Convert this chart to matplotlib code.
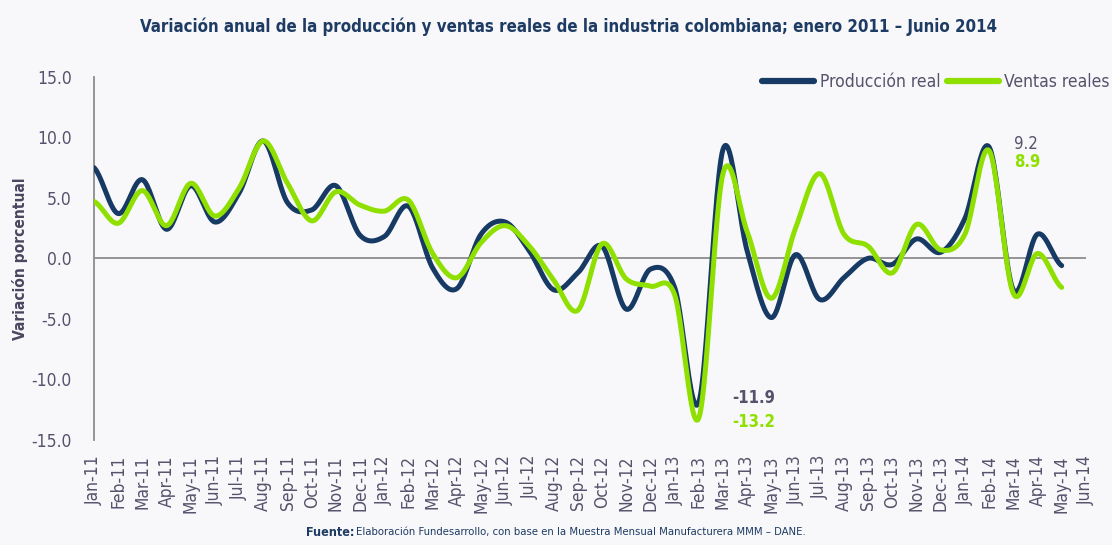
import numpy as np
from matplotlib import pyplot as plt

months = ["Jan-11", "Feb-11", "Mar-11", "Apr-11", "May-11", "Jun-11", "Jul-11", "Aug-11", "Sep-11", "Oct-11",
          "Nov-11", "Dec-11", "Jan-12", "Feb-12", "Mar-12", "Apr-12", "May-12", "Jun-12", "Jul-12", "Aug-12",
          "Sep-12", "Oct-12", "Nov-12", "Dec-12", "Jan-13", "Feb-13", "Mar-13", "Apr-13", "May-13", "Jun-13",
          "Jul-13", "Aug-13", "Sep-13", "Oct-13", "Nov-13", "Dec-13", "Jan-14", "Feb-14", "Mar-14", "Apr-14",
          "May-14", "Jun-14"]

produccion = [7.5, 3.7, 6.5, 2.4, 6.0, 3.0, 5.4, 9.7, 4.6, 4.0,
              6.0, 1.9, 1.8, 4.3, -0.8, -2.5, 2.0, 3.0, 0.6, -2.6,
              -1.2, 1.0, -4.2, -0.9, -2.4, -11.9, 9.0, 0.6, -4.9, 0.3,
              -3.4, -1.6, 0.0, -0.5, 1.6, 0.5, 3.3, 9.2, -2.6, 2.0,
              -0.6]

ventas = [4.7, 2.9, 5.6, 2.7, 6.2, 3.5, 5.8, 9.7, 6.2, 3.1,
          5.5, 4.4, 3.9, 4.8, 0.4, -1.6, 1.3, 2.7, 1.0, -1.8,
          -4.3, 1.2, -1.7, -2.3, -3.0, -13.2, 7.0, 2.2, -3.3, 2.5,
          7.0, 2.0, 1.0, -1.2, 2.8, 0.7, 2.0, 8.9, -2.9, 0.4,
          -2.4]

# months that carry a data label
labelled = ["Feb-13", "Feb-14"]

NAVY = "#173a64"
GREEN = "#8fe000"
TEXT = "#56526c"


def smooth(values, steps=24):
    # Bezier smoothing through every point, like a spreadsheet "smoothed line"
    y = np.asarray(values, dtype=float)
    n = len(y)
    xs, ys = [], []
    t = np.linspace(0, 1, steps, endpoint=False)
    for i in range(n - 1):
        p0 = y[i - 1] if i > 0 else y[i]
        p1, p2 = y[i], y[i + 1]
        p3 = y[i + 2] if i + 2 < n else y[i + 1]
        c1 = p1 + (p2 - p0) / 6
        c2 = p2 - (p3 - p1) / 6
        b = (1 - t) ** 3 * p1 + 3 * (1 - t) ** 2 * t * c1 + 3 * (1 - t) * t ** 2 * c2 + t ** 3 * p2
        xs.append(i + t)
        ys.append(b)
    xs.append([n - 1])
    ys.append([y[-1]])
    return np.concatenate(xs), np.concatenate(ys)


plt.rcParams["font.family"] = ["DejaVu Sans"]
plt.rcParams["font.stretch"] = "condensed"

fig = plt.figure(figsize=(11.12, 5.45), dpi=100, facecolor="#f8f8fa")
ax = fig.add_axes([0.0845, 0.193, 0.892, 0.666])
ax.set_facecolor("#f8f8fa")

xp, yp = smooth(produccion)
xv, yv = smooth(ventas)
ax.plot(xp, yp, color=NAVY, lw=3.6, solid_capstyle="round", label="Producción real", zorder=3)
ax.plot(xv, yv, color=GREEN, lw=3.6, solid_capstyle="round", label="Ventas reales", zorder=4)

ax.axhline(0, color="#8c8c8c", lw=1.3, zorder=2)
ax.set_xlim(0, len(months) - 1)
ax.set_ylim(-15, 15)
ax.set_yticks(np.arange(-15, 15.1, 5))
ax.set_yticklabels([f"{v:.1f}" for v in np.arange(-15, 15.1, 5)])
ax.set_xticks(range(len(months)))
ax.set_xticklabels(months, rotation=90)
ax.tick_params(axis="y", length=0, pad=16, labelsize=12.5, labelcolor=TEXT)
ax.tick_params(axis="x", length=0, pad=11, labelsize=12.5, labelcolor=TEXT)
for side in ["top", "right", "bottom"]:
    ax.spines[side].set_visible(False)
ax.spines["left"].set_color("#8c8c8c")
ax.spines["left"].set_linewidth(1.3)

ax.set_ylabel("Variación porcentual", fontsize=11.2, fontweight="bold", color="#4a4660")
ax.yaxis.set_label_coords(-0.066, 0.5)

# data labels on the extremes
i_min = months.index(labelled[0])
i_max = months.index(labelled[1])
ax.annotate(f"{produccion[i_min]:.1f}", (i_min, produccion[i_min]), xytext=(33, 4), textcoords="offset pixels",
            ha="left", va="center", fontsize=12, fontweight="bold", color=TEXT)
ax.annotate(f"{ventas[i_min]:.1f}", (i_min, ventas[i_min]), xytext=(33, -4), textcoords="offset pixels",
            ha="left", va="center", fontsize=12, fontweight="bold", color=GREEN)
ax.annotate(f"{produccion[i_max]:.1f}", (i_max, produccion[i_max]), xytext=(25, 3), textcoords="offset pixels",
            ha="left", va="center", fontsize=12, color=TEXT)
ax.annotate(f"{ventas[i_max]:.1f}", (i_max, ventas[i_max]), xytext=(25, -11), textcoords="offset pixels",
            ha="left", va="center", fontsize=12, fontweight="bold", color=GREEN)

leg = ax.legend(loc="center right", bbox_to_anchor=(1110 / 1112, 1 - 82 / 545), bbox_transform=fig.transFigure,
                ncol=2, frameon=False, handlelength=3.0, handletextpad=0.3, columnspacing=0.4,
                fontsize=12.5, borderaxespad=0, borderpad=0)
for txt in leg.get_texts():
    txt.set_color(TEXT)
for line in leg.get_lines():
    line.set_linewidth(4.5)

fig.text(568 / 1112, 1 - 27 / 545,
         "Variación anual de la producción y ventas reales de la industria colombiana; enero 2011 – Junio 2014",
         ha="center", va="center", fontsize=12.1, fontweight="bold", color="#1d3b63")

fig.text(354 / 1112, 1 - 532 / 545, "Fuente:", ha="right", va="center", fontsize=9, fontweight="bold",
         color="#1d3b63")
fig.text(356 / 1112, 1 - 532 / 545,
         "Elaboración Fundesarrollo, con base en la Muestra Mensual Manufacturera MMM – DANE.",
         ha="left", va="center", fontsize=8.1, color="#1d3b63")

fig.savefig("out.png", dpi=100, facecolor=fig.get_facecolor())
